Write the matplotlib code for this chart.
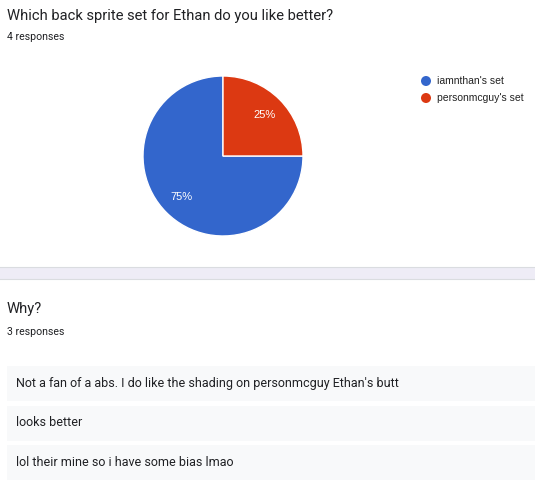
import matplotlib
matplotlib.use("Agg")
import matplotlib.pyplot as plt
from matplotlib.patches import Rectangle, Circle

plt.rcParams['font.family'] = ['Roboto', 'DejaVu Sans']

title1 = "Which back sprite set for Ethan do you like better?"
count1 = "4 responses"
labels = ["iamnthan's set", "personmcguy's set"]
values = [75, 25]
colors = ["#3366cc", "#dc3912"]
title2 = "Why?"
count2 = "3 responses"
responses = [
    "Not a fan of a abs. I do like the shading on personmcguy Ethan's butt",
    "looks better",
    "lol their mine so i have some bias lmao",
]

W, H = 535, 487
fig = plt.figure(figsize=(W / 100, H / 100), dpi=100)
fig.patch.set_facecolor("white")

bg = fig.add_axes([0, 0, 1, 1])
bg.set_xlim(0, W)
bg.set_ylim(H, 0)
bg.axis("off")

txt = "#202124"
bg.text(7, 16, title1, fontsize=10.6, color=txt, va="center", ha="left")
bg.text(7, 37, count1, fontsize=7.6, color=txt, va="center", ha="left")

# separator band
bg.add_patch(Rectangle((0, 267), W, 12, facecolor="#eeecf6", edgecolor="none"))
bg.plot([0, W], [267, 267], color="#dadce0", lw=0.8)
bg.plot([0, W], [279, 279], color="#dadce0", lw=0.8)

bg.text(7, 309, title2, fontsize=10.6, color=txt, va="center", ha="left")
bg.text(7, 332, count2, fontsize=7.6, color=txt, va="center", ha="left")

for i, r in enumerate(responses):
    y0 = 366 + i * 39.5
    bg.add_patch(Rectangle((7, y0), W, 35, facecolor="#f8f9fa", edgecolor="none"))
    bg.text(16, y0 + 17.5, r, fontsize=9.0, color=txt, va="center", ha="left")

# legend
for i, (lab, c) in enumerate(zip(labels, colors)):
    y = 81 + i * 17
    bg.add_patch(Circle((426, y), 5, facecolor=c, edgecolor="none"))
    bg.text(437, y, lab, fontsize=7.5, color="#222222", va="center", ha="left",
            family=['Liberation Sans', 'DejaVu Sans'])

# pie
cx, cy, rad = 223, 156, 80
pax = fig.add_axes([(cx - rad) / W, (H - cy - rad) / H, 2 * rad / W, 2 * rad / H])
wedges, texts, autotexts = pax.pie(
    values, colors=colors, startangle=90, counterclock=True,
    autopct="%d%%", pctdistance=0.73,
    wedgeprops=dict(edgecolor="white", linewidth=1),
    textprops=dict(color="white", fontsize=8, family=['Liberation Sans', 'DejaVu Sans']),
)
pax.set_xlim(-1, 1)
pax.set_ylim(-1, 1)
pax.set_aspect("auto")
pax.axis("off")

fig.savefig("out.png", dpi=100, facecolor="white")
